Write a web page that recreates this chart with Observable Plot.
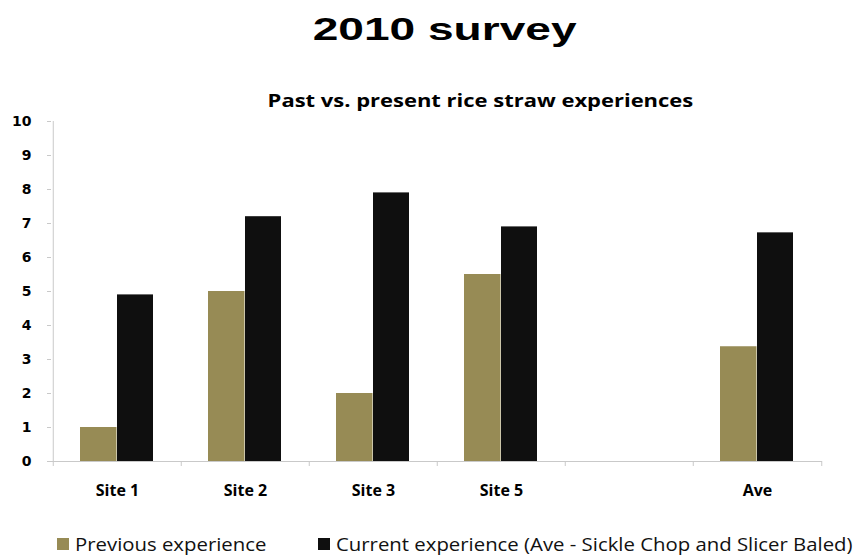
<!DOCTYPE html>
<html>
<head>
<meta charset="utf-8">
<script src="https://cdn.jsdelivr.net/npm/d3@7"></script>
<script src="https://cdn.jsdelivr.net/npm/@observablehq/plot@0.6"></script>
<style>
  html, body { margin: 0; padding: 0; background: #fff; }
  body { width: 860px; height: 557px; position: relative; overflow: hidden; }
  .title {
    position: absolute; left: 0; width: 860px; top: 11px; text-align: center;
    font-family: "Liberation Sans", Arial, sans-serif; font-weight: bold; font-size: 32px;
  }
  .title span { display: inline-block; transform: scaleX(1.44); transform-origin: 50% 50%; margin-left: 30px; }
  .subtitle {
    position: absolute; left: 0; width: 860px; top: 88px; text-align: center;
    font-family: "Open Sans", sans-serif; font-weight: bold; font-size: 18px;
  }
  .subtitle span { display: inline-block; transform: scaleX(1.22); transform-origin: 50% 50%; margin-left: 100px; }
  #chart { position: absolute; left: 0; top: 110px; }
  .legend {
    position: absolute; top: 531px; left: 0; width: 860px; height: 26px;
    font-family: "Open Sans", sans-serif; font-size: 18px; color: #111;
  }
  .legend .item { position: absolute; top: 0; white-space: nowrap; display: flex; align-items: center; height: 26px; }
  .legend .sw { width: 12px; height: 12px; display: inline-block; margin-right: 6px; }
  .legend .txt { display: inline-block; transform: scaleX(1.13); transform-origin: 0 50%; }
</style>
</head>
<body>
<div class="title"><span>2010 survey</span></div>
<div class="subtitle"><span>Past vs. present rice straw experiences</span></div>
<div id="chart"></div>
<div class="legend" id="legend"></div>
<script>
// Categories along the x axis (the blank slot separates the sites from the average)
const sites = ["Site 1", "Site 2", "Site 3", "Site 5", " ", "Ave"];
// Series values per category
const previous = [1, 5, 2, 5.5, null, 3.375];
const current = [4.9, 7.2, 7.9, 6.9, null, 6.725];
const seriesNames = ["Previous experience", "Current experience (Ave - Sickle Chop and Slicer Baled)"];
const seriesColors = ["#978b55", "#0f0f0f"];
const yTicks = [0, 1, 2, 3, 4, 5, 6, 7, 8, 9, 10];

const rows = [];
sites.forEach((s, i) => {
  if (previous[i] != null) rows.push({site: s, series: seriesNames[0], value: previous[i]});
  if (current[i] != null) rows.push({site: s, series: seriesNames[1], value: current[i]});
});

const W = 860, mL = 51, mR = 38;
const half = (W - mL - mR) / sites.length / 2;
const axisGray = "#c9c9c9";

const chart = Plot.plot({
  width: W,
  height: 400,
  marginLeft: mL,
  marginRight: mR,
  marginTop: 11,
  marginBottom: 49,
  style: {fontFamily: "Open Sans, sans-serif", color: "#000", background: "transparent"},
  x: {domain: sites, padding: 0, label: null},
  y: {domain: [0, 10], label: null},
  color: {domain: seriesNames, range: seriesColors},
  marks: [
    // y axis: gray ticks and bold labels
    Plot.axisY({ticks: yTicks, tickSize: 4, tickFormat: () => "", stroke: axisGray, label: null}),
    Plot.axisY({ticks: yTicks, tickSize: 0, tickPadding: 20, fontWeight: "bold", fontSize: 14,
      fontFamily: "DejaVu Sans, sans-serif", label: null}),
    // y axis line and baseline
    Plot.ruleX([sites[0]], {dx: -half, y1: 0, y2: 10, stroke: axisGray}),
    Plot.ruleY([0], {stroke: axisGray}),
    // category boundary ticks
    Plot.axisX({ticks: sites, tickSize: 5, tickFormat: () => "", dx: -half, stroke: axisGray, label: null}),
    Plot.axisX({ticks: [sites[sites.length - 1]], tickSize: 5, tickFormat: () => "", dx: half, stroke: axisGray, label: null}),
    // category labels
    Plot.axisX({tickSize: 0, tickPadding: 23, fontWeight: "bold", fontSize: 16, label: null}),
    // bars, side by side within each category
    Plot.barY(rows.filter(d => d.series === seriesNames[0]),
      {x: "site", y: "value", fill: "series", insetLeft: 27, insetRight: half * 2 - 64}),
    Plot.barY(rows.filter(d => d.series === seriesNames[1]),
      {x: "site", y: "value", fill: "series", insetLeft: 64, insetRight: 28})
  ]
});
document.getElementById("chart").appendChild(chart);

// legend below the chart
const legend = document.getElementById("legend");
const legendX = [57, 318];
seriesNames.forEach((name, i) => {
  const item = document.createElement("div");
  item.className = "item";
  item.style.left = legendX[i] + "px";
  const sw = document.createElement("span");
  sw.className = "sw";
  sw.style.background = seriesColors[i];
  const label = document.createElement("span");
  label.className = "txt";
  label.textContent = name;
  item.appendChild(sw);
  item.appendChild(label);
  legend.appendChild(item);
});
</script>
</body>
</html>
